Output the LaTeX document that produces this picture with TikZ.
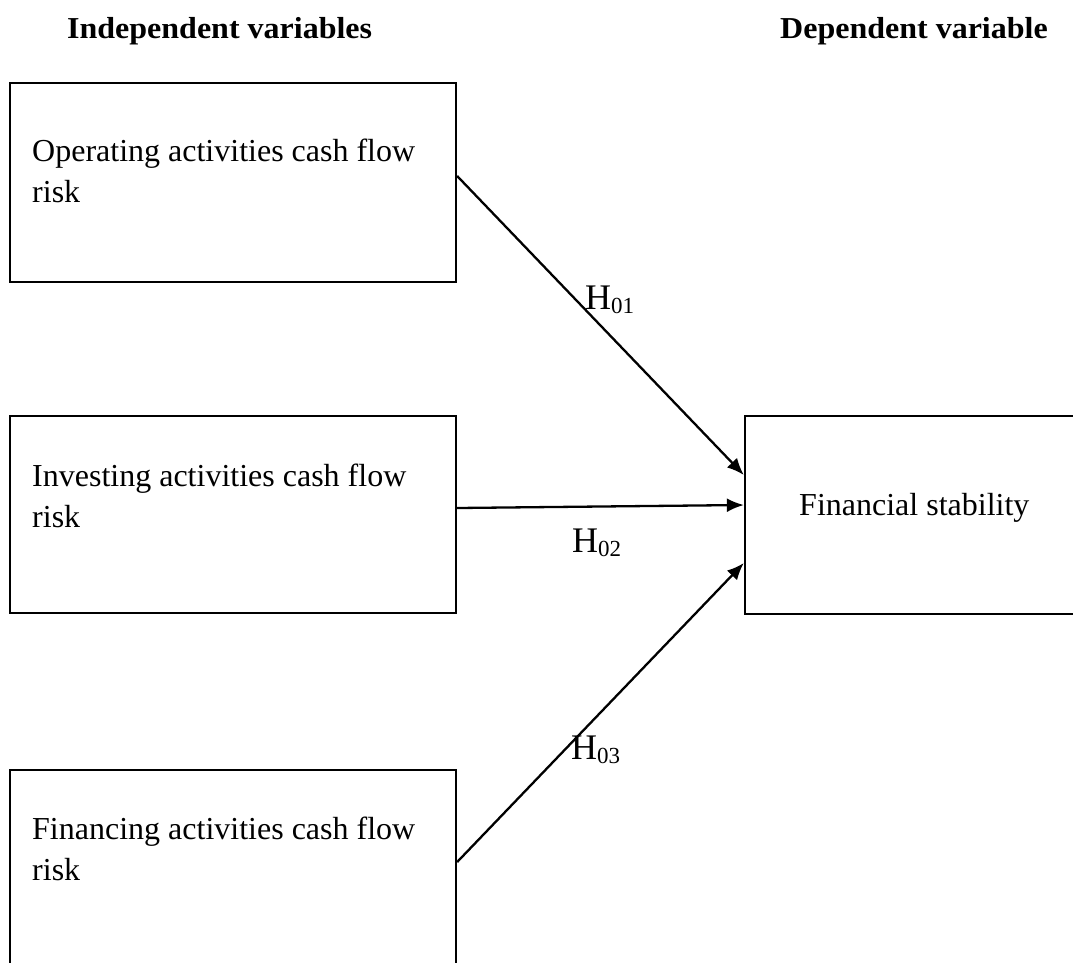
\documentclass[tikz,border=0pt]{standalone}
\usepackage{fontspec}
\usepackage{graphicx}
\setmainfont{Liberation Serif}
\usetikzlibrary{arrows.meta}
\tikzset{
  box/.style={draw=black, line width=2.3pt, rectangle, inner sep=0pt},
  boxtext/.style={anchor=base west, align=left, inner sep=0pt, font=\fontsize{32}{41}\selectfont},
  head/.style={anchor=base west, inner sep=0pt, font=\fontsize{32}{38}\selectfont\bfseries},
  hyp/.style={anchor=base west, inner sep=0pt},
  conn/.style={line width=2.3pt, -{Latex[length=17pt,width=14pt]}}
}
\newcommand{\hlab}[1]{{\fontsize{36}{40}\selectfont H}\raisebox{-4pt}{\fontsize{23}{24}\selectfont #1}}
\begin{document}
\begin{tikzpicture}[x=1pt,y=-1pt]
\clip (0,0) rectangle (1073,962);
\fill[white] (0,0) rectangle (1073,962);
% headings
\node[head] (hind) at (67,38) {\scalebox{1}[0.95]{Independent variables}};
\node[head] (hdep) at (780,38) {\scalebox{1}[0.95]{Dependent variable}};
% boxes
\node[box, minimum width=446pt, minimum height=199pt] (op) at (233,182.5) {};
\node[box, minimum width=446pt, minimum height=197pt] (inv) at (233,514.5) {};
\node[box, minimum width=446pt, minimum height=200pt] (fin) at (233,870) {};
\node[box, minimum width=340pt, minimum height=198pt] (fs) at (915,515) {};
% box texts
\node[boxtext] (opt) at (32,202) {Operating activities cash flow\\risk};
\node[boxtext] (invt) at (32,527) {Investing activities cash flow\\risk};
\node[boxtext] (fint) at (32,880) {Financing activities cash flow\\risk};
\node[boxtext] (fst) at (799,515) {Financial stability};
% connectors
\draw[conn] ([yshift=6.5pt]op.east) -- ([yshift=40pt]fs.west);
\draw[conn] ([yshift=6.5pt]inv.east) -- ([yshift=10pt]fs.west);
\draw[conn] ([yshift=8pt]fin.east) -- ([yshift=-48pt]fs.west);
% hypothesis labels
\node[hyp] (h1) at (585,309) {\hlab{01}};
\node[hyp] (h2) at (572,552) {\hlab{02}};
\node[hyp] (h3) at (571,759) {\hlab{03}};
\end{tikzpicture}
\end{document}
